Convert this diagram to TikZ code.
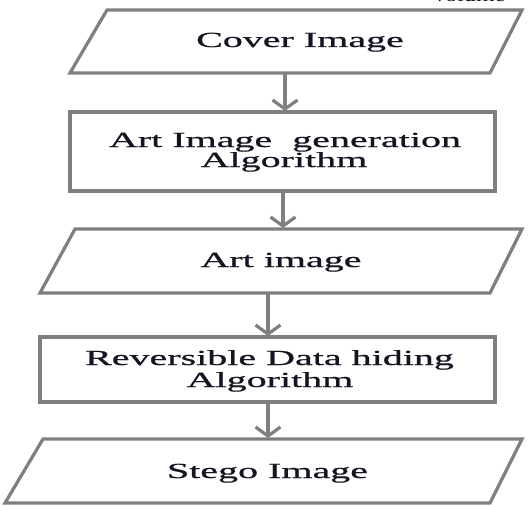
\documentclass[tikz,border=0pt]{standalone}
\usepackage{graphicx}
\usepackage{fontspec}
\setmainfont{Liberation Serif}
\newfontfamily\boxfont[FakeBold=0.6]{Liberation Serif}
\usetikzlibrary{arrows.meta}
\definecolor{lc}{RGB}{127,127,127}
\definecolor{tc}{RGB}{20,20,35}
\newcommand\sx[1]{\scalebox{1.86}[1]{#1}}
\begin{document}
\begin{tikzpicture}[x=1pt,y=-1pt,
  outline/.style={draw=lc,line width=3.2pt,line join=miter},
  boxnode/.style={draw=lc,line width=3.2pt,inner sep=0pt,outer sep=0pt},
  ghost/.style={draw=none,inner sep=0pt,outer sep=0pt},
  arr/.style={draw=lc,line width=3.2pt,shorten >=1pt,-{Straight Barb[length=9pt,width=25pt]}},
  txt/.style={anchor=base,inner sep=0pt,text=tc,font=\boxfont\fontsize{21.5pt}{21.5pt}\selectfont}]
\useasboundingbox (0,0) rectangle (529,505);
\fill[white] (0,0) rectangle (529,505);
\begin{scope}
\clip (0,0) rectangle (529,505);
\node[anchor=base west,inner sep=0pt,font=\fontsize{15pt}{15pt}\selectfont] (hdr) at (431,2) {\scalebox{1.6}[1]{Volume}};
\end{scope}
% parallelogram 1
\draw[outline] (107,10) -- (522,10) -- (490,73) -- (70,73) -- cycle;
\node[ghost,minimum width=400pt,minimum height=63pt] (p1) at (296,41.5) {};
\node[txt] (t1) at (300,47) {\sx{Cover Image}};
% rectangle 1
\node[boxnode,minimum width=425pt,minimum height=79pt] (r1) at (282.5,151.5) {};
\node[txt] (t2a) at (285,147) {\sx{Art Image~ generation}};
\node[txt] (t2b) at (284,167) {\sx{Algorithm}};
% parallelogram 2
\draw[outline] (75,229) -- (522,229) -- (490,293) -- (40,293) -- cycle;
\node[ghost,minimum width=420pt,minimum height=64pt] (p2) at (281,261) {};
\node[txt] (t3) at (281,267) {\sx{Art image}};
% rectangle 2
\node[boxnode,minimum width=455pt,minimum height=65pt] (r2) at (267.5,369.5) {};
\node[txt] (t4a) at (269.5,365) {\sx{Reversible Data hiding}};
\node[txt] (t4b) at (270,387) {\sx{Algorithm}};
% parallelogram 3
\draw[outline] (43,439) -- (522,439) -- (490,503) -- (5,503) -- cycle;
\node[ghost,minimum width=440pt,minimum height=64pt] (p3) at (265,471) {};
\node[txt] (t5) at (267.5,478) {\sx{Stego Image}};
% arrow columns
\coordinate (a1) at (285,0);
\coordinate (a2) at (283,0);
\coordinate (a3) at (268,0);
\coordinate (a4) at (268,0);
\draw[arr] (p1.south -| a1) -- (r1.north -| a1);
\draw[arr] (r1.south -| a2) -- (p2.north -| a2);
\draw[arr] (p2.south -| a3) -- (r2.north -| a3);
\draw[arr] (r2.south -| a4) -- (p3.north -| a4);
\end{tikzpicture}
\end{document}
